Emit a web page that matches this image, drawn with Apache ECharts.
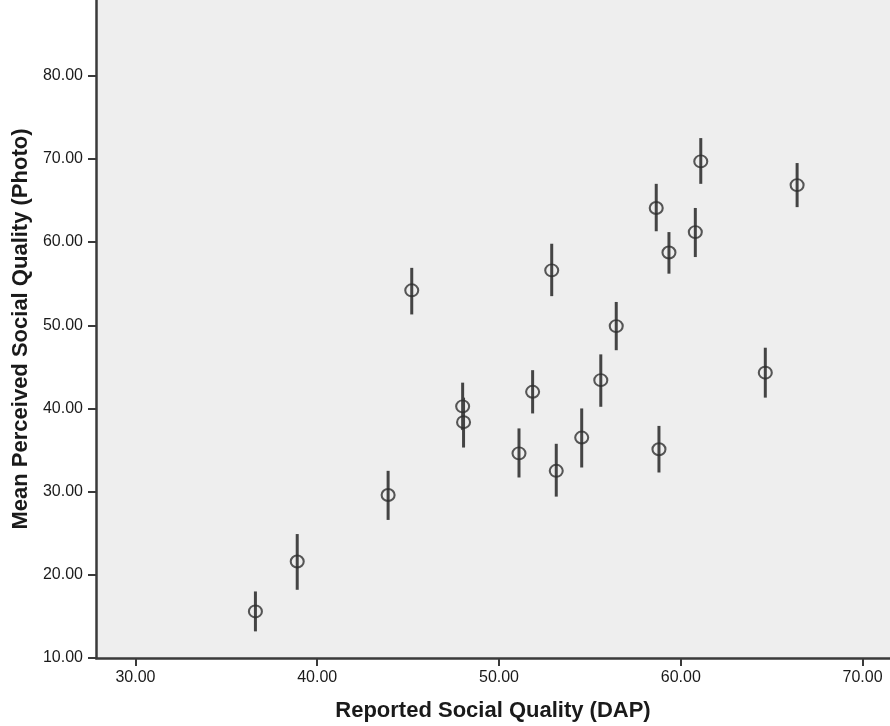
<!DOCTYPE html>
<html>
<head>
<meta charset="utf-8">
<script src="https://cdn.jsdelivr.net/npm/echarts@6/dist/echarts.min.js"></script>
<style>html,body{margin:0;padding:0;background:#fff;}#c{width:890px;height:726px;}</style>
</head>
<body>
<div id="c"></div>
<script>
// Reported Social Quality (DAP)
const xVals = [36.6, 38.9, 43.9, 45.2, 48.0, 48.05, 51.1, 51.85, 52.9, 53.15, 54.55, 55.6, 56.45, 58.65, 58.8, 59.35, 60.8, 61.1, 64.65, 66.4];
// Mean Perceived Social Quality (Photo)
const yVals = [15.6, 21.6, 29.6, 54.2, 40.25, 38.35, 34.6, 42.0, 56.6, 32.5, 36.5, 43.4, 49.9, 64.1, 35.1, 58.75, 61.2, 69.7, 44.3, 66.85];
const lowVals = [13.2, 18.2, 26.6, 51.3, 37.4, 35.3, 31.7, 39.4, 53.5, 29.4, 32.9, 40.2, 47.0, 61.3, 32.3, 56.2, 58.2, 67.0, 41.3, 64.2];
const highVals = [18.0, 24.9, 32.5, 56.9, 43.1, 41.3, 37.6, 44.6, 59.8, 35.75, 40.0, 46.5, 52.8, 67.0, 37.9, 61.2, 64.1, 72.5, 47.3, 69.5];
const xTicks = [30, 40, 50, 60, 70];
const yTicks = [10, 20, 30, 40, 50, 60, 70, 80];

const pts = xVals.map((x, i) => [x, yVals[i]]);
const bars = xVals.map((x, i) => [x, lowVals[i], highVals[i]]);

const chart = echarts.init(document.getElementById('c'), null, {renderer: 'canvas'});
const axisCommon = {
  axisLine: {show: true, lineStyle: {color: '#3a3a3a', width: 2.5}},
  axisTick: {show: true, length: 8, lineStyle: {color: '#3a3a3a', width: 2}},
  splitLine: {show: false},
  nameTextStyle: {fontFamily: 'Liberation Sans', fontWeight: 'bold', fontSize: 22, color: '#1a1a1a'}
};
chart.setOption({
  animation: false,
  backgroundColor: '#ffffff',
  grid: {left: 96, right: 0, top: 0, bottom: 68, show: true, backgroundColor: '#eeeeee', borderWidth: 0,
    containLabel: false, outerBoundsMode: 'none'},
  xAxis: Object.assign({}, axisCommon, {
    type: 'value', min: 27.83, max: 71.51,
    name: 'Reported Social Quality (DAP)', nameLocation: 'middle', nameGap: 42,
    axisTick: Object.assign({}, axisCommon.axisTick, {customValues: xTicks}),
    axisLabel: {customValues: xTicks, margin: 12, fontFamily: 'Liberation Sans', fontSize: 16, color: '#1a1a1a',
      formatter: v => v.toFixed(2)}
  }),
  yAxis: Object.assign({}, axisCommon, {
    type: 'value', min: 10, max: 89.1,
    name: 'Mean Perceived Social Quality (Photo)', nameLocation: 'middle', nameGap: 64,
    axisTick: Object.assign({}, axisCommon.axisTick, {customValues: yTicks}),
    axisLabel: {customValues: yTicks, margin: 13, fontFamily: 'Liberation Sans', fontSize: 16, color: '#1a1a1a',
      formatter: v => v.toFixed(2)}
  }),
  series: [
    {
      type: 'custom',
      data: bars,
      renderItem: function (params, api) {
        const x = api.value(0);
        const p1 = api.coord([x, api.value(1)]);
        const p2 = api.coord([x, api.value(2)]);
        return {type: 'line', shape: {x1: p1[0], y1: p1[1], x2: p2[0], y2: p2[1]},
          style: {stroke: '#444444', lineWidth: 3}};
      },
      z: 2
    },
    {
      type: 'scatter',
      data: pts,
      symbol: 'circle',
      symbolSize: [13, 12],
      itemStyle: {color: 'rgba(0,0,0,0)', borderColor: '#2e2e2e', borderWidth: 2},
      z: 3
    }
  ]
});
</script>
</body>
</html>
